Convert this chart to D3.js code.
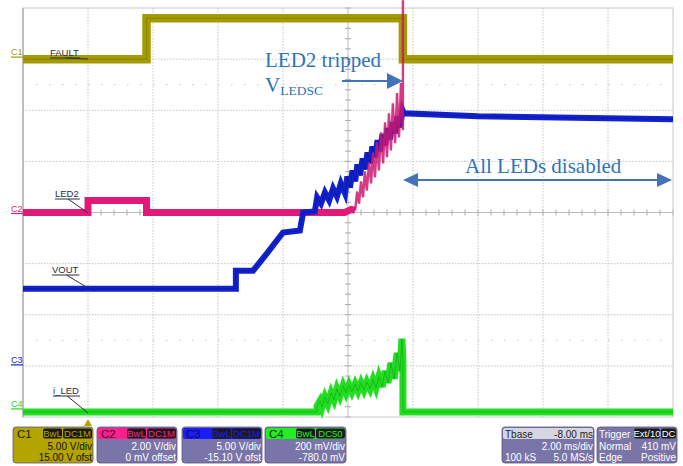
<!DOCTYPE html>
<html>
<head>
<meta charset="utf-8">
<script src="https://cdn.jsdelivr.net/npm/d3@7"></script>
<style>
body { margin: 0; background: #fff; }
</style>
</head>
<body>
<div id="scope"></div>
<script>
// time in ms from trigger, values in volts
var fault = [[-2,0],[1.8,0],[1.8,4.0],[9.69,4.0],[9.69,0],[18,0]];
var led2Base = [[-2,0],[0,0],[0,0.47],[1.8,0.47],[1.8,0],[7.9,0],[8.1,0.12],[8.22,0.08]];
var led2Ramp = [[8.22,0.08],[8.28,0.82],[8.34,0.35],[8.40,1.22],[8.46,0.59],[8.52,1.61],[8.58,0.86],[8.65,1.96],
  [8.71,1.14],[8.77,2.35],[8.83,1.37],[8.89,2.75],[8.95,1.65],[9.02,3.14],[9.08,1.92],[9.14,3.53],[9.20,2.16],
  [9.26,3.88],[9.32,2.43],[9.38,4.27],[9.45,2.71],[9.51,4.67],[9.57,2.94],[9.63,5.06],[9.69,3.22],[9.69,8.3]];
var vout = [[-2,7.65],[4.55,7.65],[4.55,9.41],[5.08,9.41],[5.5,11.08],[6.0,13.14],[6.52,13.34],[6.62,15.1],
  [6.98,15.2],[7.05,16.57],[7.17,15.98],[7.29,17.06],[7.42,16.28],[7.54,17.45],[7.66,16.67],[7.78,17.94],
  [7.91,16.96],[7.98,18.63],[8.06,17.55],[8.14,19.22],[8.22,18.14],[8.29,19.81],[8.37,18.73],[8.45,20.39],
  [8.52,19.32],[8.60,20.98],[8.68,19.90],[8.75,21.57],[8.83,20.49],[8.91,22.16],[8.98,21.08],[9.06,22.75],
  [9.14,21.67],[9.22,23.34],[9.29,22.26],[9.37,23.92],[9.45,22.85],[9.52,24.51],[9.60,23.43],[9.68,25.10],
  [9.72,24.81],[12,24.51],[18,24.22]];
var iled = [[-2,0],[7.05,0],[7.05,0.023],[7.14,0.043],[7.20,0.019],[7.29,0.058],[7.38,0.031],[7.48,0.074],
  [7.57,0.047],[7.66,0.090],[7.75,0.062],[7.85,0.102],[7.94,0.074],[8.03,0.105],[8.12,0.078],[8.22,0.109],
  [8.31,0.082],[8.40,0.113],[8.49,0.086],[8.58,0.117],[8.68,0.090],[8.77,0.125],[8.86,0.094],[8.95,0.137],
  [9.05,0.098],[9.14,0.160],[9.23,0.113],[9.32,0.192],[9.42,0.129],[9.51,0.231],[9.60,0.160],[9.66,0.286],
  [9.69,0.200],[9.69,0],[18,0]];

// channel settings (V/div, offset) as shown in the readout
var chNames = ["C1", "C2", "C3", "C4"];
var chVdiv = [5, 2, 5, 0.2];
var chOfst = [15, 0, -15.1, -0.78];
var chColors = ["#a39b00", "#e3197a", "#1222cc", "#22dd22"];
var traceLabels = ["FAULT", "LED2", "VOUT", "i_LED"];

var boxTitles = ["C1", "C2", "C3", "C4"];
var boxBadges = [["BwL", "DC1M"], ["BwL", "DC1M"], ["BwL", "DC1M"], ["BwL", "DC50"]];
var boxLine1 = ["5.00 V/div", "2.00 V/div", "5.00 V/div", "200 mV/div"];
var boxLine2 = ["15.00 V ofst", "0 mV offset", "-15.10 V ofst", "-780.0 mV"];

var WIDTH = 683, HEIGHT = 466;
var PLOT = { left: 23, right: 673, top: 8, bottom: 417 };

var svg = d3.select("#scope").append("svg")
  .attr("width", WIDTH).attr("height", HEIGHT)
  .style("font-family", "'Liberation Sans', Arial, sans-serif");

var xScale = d3.scaleLinear().domain([-2, 18]).range([PLOT.left, PLOT.right]);
var xDiv = d3.scaleLinear().domain([-5, 5]).range([PLOT.left, PLOT.right]);
var yDiv = d3.scaleLinear().domain([-4, 4]).range([PLOT.bottom, PLOT.top]);

function chScale(i) {
  return d3.scaleLinear()
    .domain([-4 * chVdiv[i] - chOfst[i], 4 * chVdiv[i] - chOfst[i]])
    .range([PLOT.bottom, PLOT.top]);
}

// grid
var grid = svg.append("g").attr("class", "grid");
d3.range(-4, 5).forEach(function(d) {
  if (d == 0) return;
  grid.append("line").attr("x1", xDiv(d)).attr("x2", xDiv(d))
    .attr("y1", PLOT.top).attr("y2", PLOT.bottom)
    .attr("stroke", "#c4c4c4").attr("stroke-dasharray", "1.5,1.5");
});
d3.range(-3, 4).forEach(function(d) {
  if (d == 0) return;
  grid.append("line").attr("y1", yDiv(d)).attr("y2", yDiv(d))
    .attr("x1", PLOT.left).attr("x2", PLOT.right)
    .attr("stroke", "#c4c4c4").attr("stroke-dasharray", "1.5,1.5");
});
[-2.5, 2.5].forEach(function(d) {
  grid.append("line").attr("y1", yDiv(d)).attr("y2", yDiv(d))
    .attr("x1", PLOT.left + 13).attr("x2", PLOT.right)
    .attr("stroke", "#c8c8c8").attr("stroke-dasharray", "1.5,11.5");
});
// centre lines with minor ticks
grid.append("line").attr("x1", xDiv(0)).attr("x2", xDiv(0))
  .attr("y1", PLOT.top).attr("y2", PLOT.bottom).attr("stroke", "#bdbdbd");
grid.append("line").attr("y1", yDiv(0)).attr("y2", yDiv(0))
  .attr("x1", PLOT.left).attr("x2", PLOT.right).attr("stroke", "#bdbdbd");
d3.range(-25, 26).forEach(function(k) {
  var x = xDiv(k * 0.2);
  grid.append("line").attr("x1", x).attr("x2", x)
    .attr("y1", yDiv(0) - 3).attr("y2", yDiv(0) + 3).attr("stroke", "#aaa");
});
d3.range(-20, 21).forEach(function(k) {
  var y = yDiv(k * 0.2);
  grid.append("line").attr("y1", y).attr("y2", y)
    .attr("x1", xDiv(0) - 3).attr("x2", xDiv(0) + 3).attr("stroke", "#aaa");
});
svg.append("rect").attr("x", PLOT.left).attr("y", PLOT.top)
  .attr("width", PLOT.right - PLOT.left).attr("height", PLOT.bottom - PLOT.top)
  .attr("fill", "none").attr("stroke", "#c8c8c8");
svg.append("line").attr("x1", PLOT.left).attr("x2", PLOT.left)
  .attr("y1", PLOT.top).attr("y2", PLOT.bottom).attr("stroke", "#999");

function lineFor(i) {
  var ys = chScale(i);
  return d3.line().x(function(d) { return xScale(d[0]); }).y(function(d) { return ys(d[1]); });
}

var traces = svg.append("g").attr("class", "traces").attr("fill", "none")
  .attr("stroke-linejoin", "miter");

traces.append("path").attr("d", lineFor(0)(fault))
  .attr("stroke", chColors[0]).attr("stroke-width", 8.5);
traces.append("path").attr("d", lineFor(0)(fault))
  .attr("stroke", "#7d7600").attr("stroke-width", 1).attr("opacity", 0.6);

traces.append("path").attr("d", lineFor(1)(led2Base))
  .attr("stroke", chColors[1]).attr("stroke-width", 7);

traces.append("path").attr("d", lineFor(2)(vout))
  .attr("stroke", chColors[2]).attr("stroke-width", 6);
traces.append("path").attr("d", lineFor(2)(vout))
  .attr("stroke", "#0a1296").attr("stroke-width", 1).attr("opacity", 0.6);

traces.append("path").attr("d", lineFor(1)(led2Ramp))
  .attr("stroke", "#cc1870").attr("stroke-width", 2.4).attr("opacity", 0.85);

traces.append("path").attr("d", lineFor(3)(iled))
  .attr("stroke", chColors[3]).attr("stroke-width", 7);
traces.append("path").attr("d", lineFor(3)(iled))
  .attr("stroke", "#12a012").attr("stroke-width", 1).attr("opacity", 0.6);

// channel markers on the left edge
var markerY = [chScale(0)(0) - 4, chScale(1)(0) - 1, yDiv(-3) - 3, chScale(3)(0) - 5];
chNames.forEach(function(n, i) {
  var g = svg.append("g");
  g.append("text").attr("x", 11).attr("y", markerY[i])
    .attr("font-size", 9).attr("fill", chColors[i]).text(n);
  g.append("line").attr("x1", 11).attr("x2", PLOT.left)
    .attr("y1", markerY[i] + 2).attr("y2", markerY[i] + 2)
    .attr("stroke", chColors[i]).attr("stroke-width", 1.2);
});

// trace labels with leader lines
var labelPos = [[50, 56, 88, 59], [55, 197, 88, 213], [52, 273, 88, 288], [53, 394, 88, 413]];
traceLabels.forEach(function(t, i) {
  var p = labelPos[i];
  var txt = svg.append("text").attr("x", p[0]).attr("y", p[1])
    .attr("font-size", 9.5).attr("fill", "#2b2b40").text(t);
  var w = txt.node().getComputedTextLength();
  svg.append("line").attr("x1", p[0]).attr("x2", p[0] + w + 1)
    .attr("y1", p[1] + 2).attr("y2", p[1] + 2).attr("stroke", "#2b2b40");
  svg.append("line").attr("x1", p[0] + w * 0.55).attr("x2", p[2])
    .attr("y1", p[1] + 2).attr("y2", p[3]).attr("stroke", "#2b2b40");
});

// trigger position marker
svg.append("path")
  .attr("d", "M" + xScale(0) + "," + 419 + " l4,7 l-8,0 z")
  .attr("fill", "#b3a400");

// annotations
var ann = "#2e75b6";
var serif = "'Liberation Serif', 'Times New Roman', serif";
svg.append("text").attr("x", 265).attr("y", 67).attr("font-family", serif)
  .attr("font-size", 21).attr("fill", ann).text("LED2 tripped");
var vt = svg.append("text").attr("x", 265).attr("y", 92).attr("font-family", serif)
  .attr("font-size", 21).attr("fill", ann);
vt.append("tspan").text("V");
vt.append("tspan").attr("font-size", 13.5).attr("dy", 3).text("LEDSC");

svg.append("line").attr("x1", 342).attr("x2", 389).attr("y1", 81).attr("y2", 81)
  .attr("stroke", "#4472b8").attr("stroke-width", 2.2);
svg.append("path").attr("d", "M387,73 L403,81 L387,89 Z").attr("fill", "#4472b8");

svg.append("text").attr("x", 465).attr("y", 173).attr("font-family", serif)
  .attr("font-size", 21).attr("fill", ann).text("All LEDs disabled");
svg.append("line").attr("x1", 412).attr("x2", 663).attr("y1", 180).attr("y2", 180)
  .attr("stroke", "#4472b8").attr("stroke-width", 2.2);
svg.append("path").attr("d", "M403,180 L418,173 L418,187 Z").attr("fill", "#4472b8");
svg.append("path").attr("d", "M672,180 L657,173 L657,187 Z").attr("fill", "#4472b8");

// readout boxes
var body = "#7a75a8";
var boxX = [13, 97, 182, 265];
var boxW = [80, 80, 80, 81];
var headCol = ["#b3a400", "#ff1f8c", "#1c1cff", "#22ee22"];
var titleCol = ["#1a1a00", "#4a0022", "#0a0a50", "#0a2a0a"];

function badge(g, x, y, w, label, col) {
  g.append("rect").attr("x", x).attr("y", y).attr("width", w).attr("height", 10)
    .attr("rx", 2).attr("fill", "#1a1a1a");
  g.append("text").attr("x", x + w / 2).attr("y", y + 8.5).attr("text-anchor", "middle")
    .attr("font-size", 9.5).attr("fill", col).text(label);
}

boxTitles.forEach(function(t, i) {
  var g = svg.append("g");
  var x = boxX[i], w = boxW[i];
  var fill = i == 0 ? headCol[0] : body;
  var txtCol = i == 0 ? "#111" : "#fff";
  g.append("rect").attr("x", x).attr("y", 427).attr("width", w).attr("height", 36)
    .attr("rx", 3).attr("fill", fill).attr("stroke", "#5a5680").attr("stroke-width", 0.8);
  g.append("rect").attr("x", x + 1).attr("y", 428).attr("width", w - 2).attr("height", 11)
    .attr("rx", 2).attr("fill", headCol[i]);
  g.append("text").attr("x", x + 4).attr("y", 438).attr("font-size", 11.5)
    .attr("fill", titleCol[i]).text(t);
  badge(g, x + w - 50, 428.5, 19, boxBadges[i][0], headCol[i]);
  badge(g, x + w - 30, 428.5, 29, boxBadges[i][1], headCol[i]);
  g.append("text").attr("x", x + w - 1).attr("y", 449.5).attr("text-anchor", "end")
    .attr("font-size", 10).attr("fill", txtCol).text(boxLine1[i]);
  g.append("text").attr("x", x + w - 1).attr("y", 461).attr("text-anchor", "end")
    .attr("font-size", 10).attr("fill", txtCol).text(boxLine2[i]);
});

// timebase box
var tb = svg.append("g");
tb.append("rect").attr("x", 502).attr("y", 427).attr("width", 92).attr("height", 36)
  .attr("rx", 3).attr("fill", body).attr("stroke", "#5a5680").attr("stroke-width", 0.8);
tb.append("rect").attr("x", 503).attr("y", 428).attr("width", 90).attr("height", 11)
  .attr("rx", 2).attr("fill", "#d6d5e2");
tb.append("text").attr("x", 505).attr("y", 437.5).attr("font-size", 10).attr("fill", "#222").text("Tbase");
tb.append("text").attr("x", 593).attr("y", 437.5).attr("font-size", 10).attr("fill", "#222")
  .attr("text-anchor", "end").text("-8.00 ms");
tb.append("text").attr("x", 593).attr("y", 449.5).attr("font-size", 10).attr("fill", "#fff")
  .attr("text-anchor", "end").text("2.00 ms/div");
tb.append("text").attr("x", 505).attr("y", 461).attr("font-size", 10).attr("fill", "#fff").text("100 kS");
tb.append("text").attr("x", 593).attr("y", 461).attr("font-size", 10).attr("fill", "#fff")
  .attr("text-anchor", "end").text("5.0 MS/s");

// trigger box
var tr = svg.append("g");
tr.append("rect").attr("x", 597).attr("y", 427).attr("width", 80).attr("height", 36)
  .attr("rx", 3).attr("fill", body).attr("stroke", "#5a5680").attr("stroke-width", 0.8);
tr.append("text").attr("x", 599).attr("y", 437.5).attr("font-size", 10).attr("fill", "#fff").text("Trigger");
badge(tr, 634, 428.5, 26, "Ext/10", "#fff");
badge(tr, 661, 428.5, 15, "DC", "#fff");
tr.append("text").attr("x", 599).attr("y", 449.5).attr("font-size", 10).attr("fill", "#fff").text("Normal");
tr.append("text").attr("x", 676).attr("y", 449.5).attr("font-size", 10).attr("fill", "#fff")
  .attr("text-anchor", "end").text("410 mV");
tr.append("text").attr("x", 599).attr("y", 461).attr("font-size", 10).attr("fill", "#fff").text("Edge");
tr.append("text").attr("x", 676).attr("y", 461).attr("font-size", 10).attr("fill", "#fff")
  .attr("text-anchor", "end").text("Positive");
</script>
</body>
</html>
